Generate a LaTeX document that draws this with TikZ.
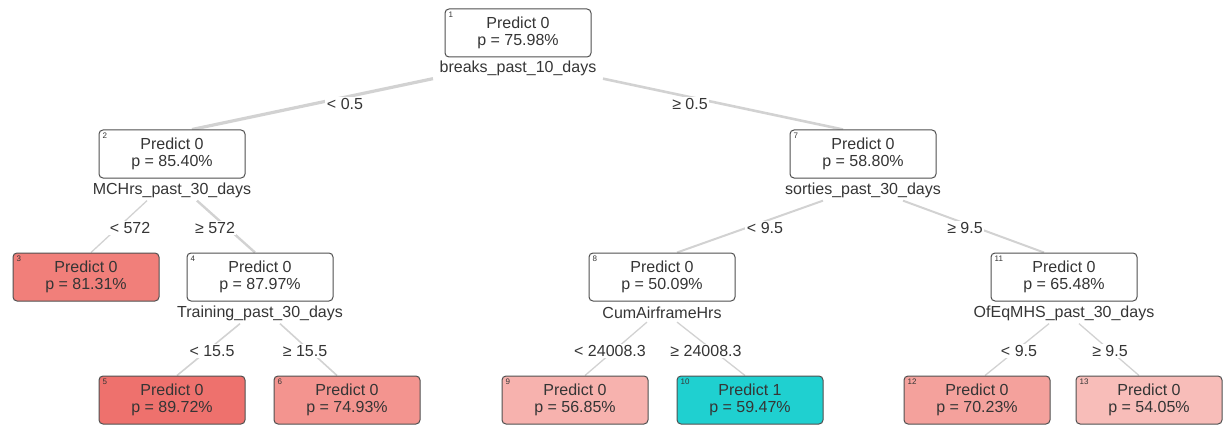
\documentclass[tikz,border=0pt]{standalone}
\usepackage{fontspec}
\setmainfont{Liberation Sans}
\usetikzlibrary{backgrounds}
\definecolor{txt}{HTML}{353535}
\definecolor{bord}{HTML}{505050}
\definecolor{edgegray}{HTML}{D2D2D2}
\definecolor{fA}{HTML}{F17F7A}
\definecolor{fB}{HTML}{EE716D}
\definecolor{fC}{HTML}{F3948F}
\definecolor{fD}{HTML}{F7B2AE}
\definecolor{fE}{HTML}{1FD0D0}
\definecolor{fF}{HTML}{F4A19C}
\definecolor{fG}{HTML}{F8BDB9}
\tikzset{
  treebox/.style={draw=bord, line width=1pt, rounded corners=4pt, fill=white,
    minimum width=146pt, minimum height=48pt, align=center, text=txt,
    font=\fontsize{16}{17}\selectfont, inner sep=0pt},
  numlbl/.style={font=\fontsize{8}{8}\selectfont, text=txt, inner sep=0pt, anchor=north west},
  splitlbl/.style={font=\fontsize{16}{17}\selectfont, text=txt, inner sep=1pt},
  edgelbl/.style={font=\fontsize{16}{17}\selectfont, text=txt, fill=white, inner sep=1.5pt},
  edgeline/.style={draw=edgegray, line width=#1},
}
\begin{document}
\begin{tikzpicture}[x=1pt,y=-1pt]
\useasboundingbox (0,0) rectangle (1223,433);
% internal nodes
\node[treebox] (n1) at (518,33) {Predict 0\\p = 75.98\%};
\node[numlbl] at ([shift={(4,3)}]n1.north west) {1};
\node[splitlbl] (s1) at (518,68) {breaks\_past\_10\_days};

\node[treebox] (n2) at (172,154) {Predict 0\\p = 85.40\%};
\node[numlbl] at ([shift={(4,3)}]n2.north west) {2};
\node[splitlbl] (s2) at (172,190) {MCHrs\_past\_30\_days};

\node[treebox] (n7) at (863,154) {Predict 0\\p = 58.80\%};
\node[numlbl] at ([shift={(4,3)}]n7.north west) {7};
\node[splitlbl] (s7) at (863,190) {sorties\_past\_30\_days};

\node[treebox, fill=fA] (n3) at (86,277) {Predict 0\\p = 81.31\%};
\node[numlbl] at ([shift={(4,3)}]n3.north west) {3};

\node[treebox] (n4) at (260,277) {Predict 0\\p = 87.97\%};
\node[numlbl] at ([shift={(4,3)}]n4.north west) {4};
\node[splitlbl] (s4) at (260,313) {Training\_past\_30\_days};

\node[treebox] (n8) at (662,277) {Predict 0\\p = 50.09\%};
\node[numlbl] at ([shift={(4,3)}]n8.north west) {8};
\node[splitlbl] (s8) at (662,313) {CumAirframeHrs};

\node[treebox] (n11) at (1064,277) {Predict 0\\p = 65.48\%};
\node[numlbl] at ([shift={(4,3)}]n11.north west) {11};
\node[splitlbl] (s11) at (1064,313) {OfEqMHS\_past\_30\_days};

% leaves
\node[treebox, fill=fB] (n5) at (172,400) {Predict 0\\p = 89.72\%};
\node[numlbl] at ([shift={(4,3)}]n5.north west) {5};
\node[treebox, fill=fC] (n6) at (347,400) {Predict 0\\p = 74.93\%};
\node[numlbl] at ([shift={(4,3)}]n6.north west) {6};
\node[treebox, fill=fD] (n9) at (575,400) {Predict 0\\p = 56.85\%};
\node[numlbl] at ([shift={(4,3)}]n9.north west) {9};
\node[treebox, fill=fE] (n10) at (750,400) {Predict 1\\p = 59.47\%};
\node[numlbl] at ([shift={(4,3)}]n10.north west) {10};
\node[treebox, fill=fF] (n12) at (977,400) {Predict 0\\p = 70.23\%};
\node[numlbl] at ([shift={(4,3)}]n12.north west) {12};
\node[treebox, fill=fG] (n13) at (1149,400) {Predict 0\\p = 54.05\%};
\node[numlbl] at ([shift={(4,3)}]n13.north west) {13};

% edges
\begin{pgfonlayer}{background}
\draw[edgeline=3.2pt] ([xshift=-85pt,yshift=-2pt]s1.south) -- ([xshift=20pt]n2.north);
\draw[edgeline=2.6pt] ([xshift=85pt,yshift=-2pt]s1.south) -- ([xshift=-20pt]n7.north);
\draw[edgeline=1.3pt] ([xshift=-25pt,yshift=-2pt]s2.south) -- ([xshift=5pt]n3.north);
\draw[edgeline=2.4pt] ([xshift=25pt,yshift=-2pt]s2.south) -- ([xshift=-5pt]n4.north);
\draw[edgeline=2pt] ([xshift=-40pt,yshift=-2pt]s7.south) -- ([xshift=15pt]n8.north);
\draw[edgeline=2pt] ([xshift=40pt,yshift=-2pt]s7.south) -- ([xshift=-20pt]n11.north);
\draw[edgeline=1.6pt] ([xshift=-20pt,yshift=-2pt]s4.south) -- ([xshift=5pt]n5.north);
\draw[edgeline=1.6pt] ([xshift=20pt,yshift=-2pt]s4.south) -- ([xshift=-10pt]n6.north);
\draw[edgeline=1.3pt] ([xshift=-15pt,yshift=-2pt]s8.south) -- ([xshift=10pt]n9.north);
\draw[edgeline=1.3pt] ([xshift=15pt,yshift=-2pt]s8.south) -- ([xshift=-5pt]n10.north);
\draw[edgeline=1.3pt] ([xshift=-15pt,yshift=-2pt]s11.south) -- ([xshift=8pt]n12.north);
\draw[edgeline=1.3pt] ([xshift=15pt,yshift=-2pt]s11.south) -- ([xshift=-10pt]n13.north);
\end{pgfonlayer}

% edge labels
\node[edgelbl] (e12) at (345,104) {< 0.5};
\node[edgelbl] (e17) at (690,104) {≥ 0.5};
\node[edgelbl] (e23) at (130,228) {< 572};
\node[edgelbl] (e24) at (215,228) {≥ 572};
\node[edgelbl] (e78) at (765,228) {< 9.5};
\node[edgelbl] (e711) at (965,228) {≥ 9.5};
\node[edgelbl] (e45) at (212,351) {< 15.5};
\node[edgelbl] (e46) at (305,351) {≥ 15.5};
\node[edgelbl] (e89) at (610,351) {< 24008.3};
\node[edgelbl] (e810) at (706,351) {≥ 24008.3};
\node[edgelbl] (e1112) at (1019,351) {< 9.5};
\node[edgelbl] (e1113) at (1110,351) {≥ 9.5};
\end{tikzpicture}
\end{document}
